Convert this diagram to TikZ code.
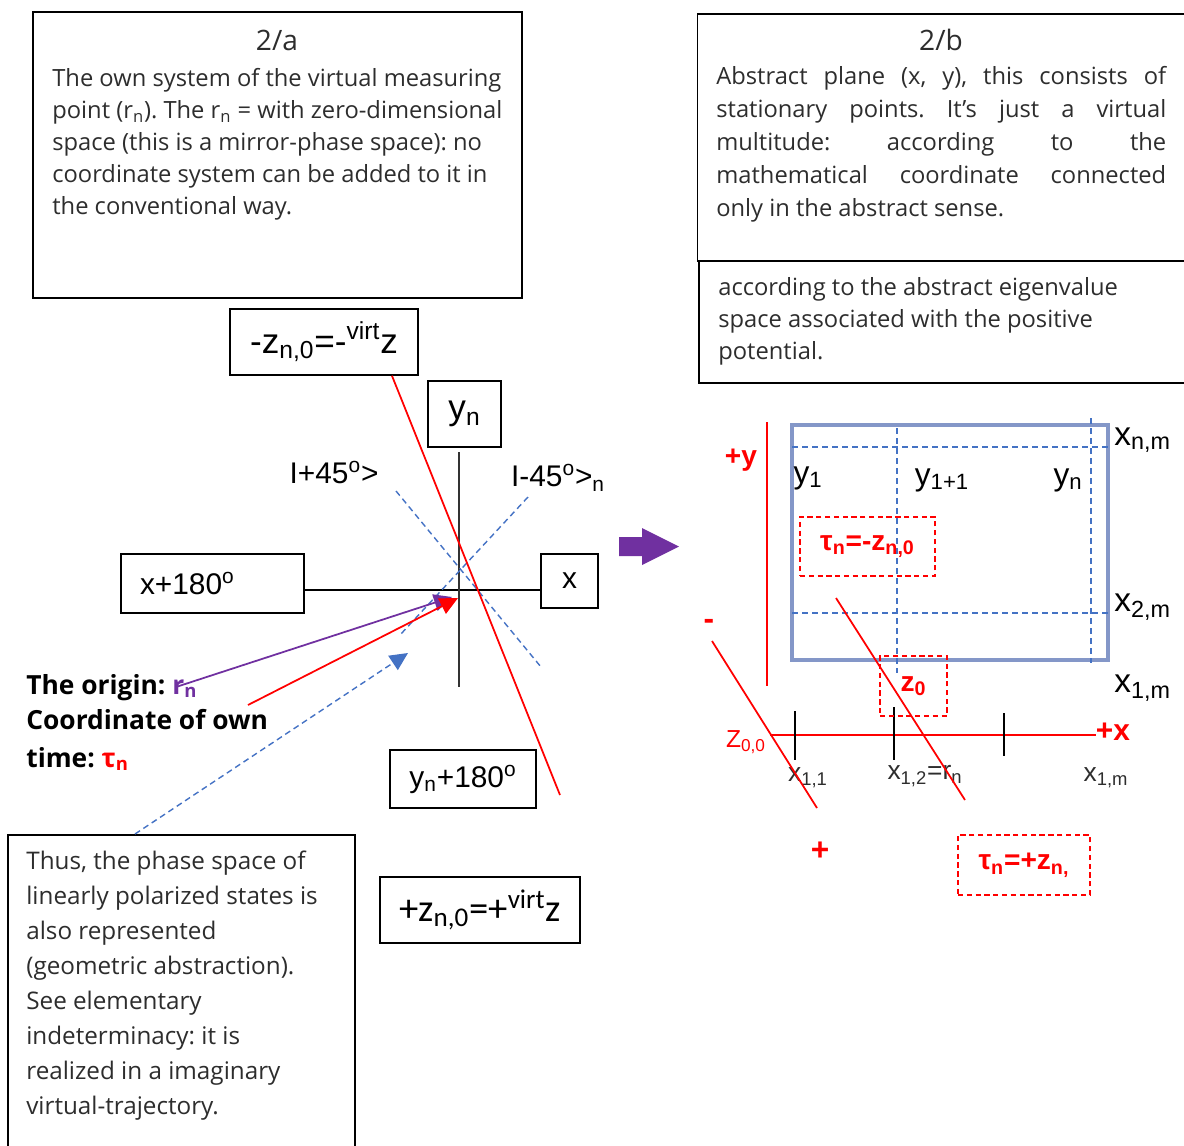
\documentclass[tikz,border=0pt]{standalone}
\usepackage{fontspec}
\setmainfont{Open Sans}
\newfontfamily\arialfont{Liberation Sans}
\newfontfamily\calfont{Carlito}
\usetikzlibrary{arrows.meta,positioning}
\definecolor{violet1}{RGB}{112,48,160}
\definecolor{dashblue}{RGB}{68,114,196}
\definecolor{gridblue}{RGB}{132,151,200}
\definecolor{txtgray}{RGB}{45,45,45}
\newcommand{\spreadline}[1]{\makebox[9cm][s]{#1}}
\frenchspacing
\tikzset{
  panel/.style={draw, line width=0.9pt, inner sep=0pt},
  bodytxt/.style={inner sep=0pt, align=left, text=txtgray, font=\fontsize{13.5}{18.2}\selectfont},
  boxlabel/.style={draw, line width=0.9pt, inner sep=0pt, font=\arialfont\fontsize{17}{20}\selectfont},
  plainlbl/.style={inner sep=0pt, font=\arialfont\fontsize{17}{20}\selectfont},
  smalllbl/.style={inner sep=0pt, text=txtgray, font=\arialfont\fontsize{15}{18}\selectfont},
  redlbl/.style={inner sep=0pt, text=red, font=\arialfont\bfseries\fontsize{16}{19}\selectfont},
  redbox/.style={draw=red, dash pattern=on 3pt off 2pt, line width=0.8pt, inner sep=0pt, redlbl},
  boldlbl/.style={inner sep=0pt, font=\bfseries\fontsize{15}{18}\selectfont},
  bluedash/.style={dashblue, dash pattern=on 3.4pt off 2.3pt, line width=0.8pt},
  redline/.style={red, line width=1pt},
  headtip/.style={-{Triangle[length=0.36cm,width=0.34cm]}}
}
\begin{document}
\begin{tikzpicture}[x=0.02cm,y=-0.02cm]
  \useasboundingbox (0,0) rectangle (1184,1146);
  % text panels
  \node[panel, minimum width=9.78cm, minimum height=5.72cm] (pa) at (277.5,155) {};
  \node[inner sep=0pt, text=txtgray, font=\fontsize{16}{19}\selectfont] (pahead) at (277,40) {2/a};
  \node[bodytxt, anchor=north west] (patext) at (52,68) {The own system of the virtual measuring\\
    point (r\textsubscript{n}). The r\textsubscript{n} = with zero-dimensional\\
    space (this is a mirror-phase space): no\\
    coordinate system can be added to it in\\
    the conventional way.};
  \node[panel, minimum width=9.9cm, minimum height=4.94cm] (pb) at (945,137.5) {};
  \node[inner sep=0pt, text=txtgray, font=\fontsize{16}{19}\selectfont] (pbhead) at (941,40) {2/b};
  \node[bodytxt, anchor=north west, font=\fontsize{13.5}{18.8}\selectfont] (pbtext) at (716,66) {\spreadline{Abstract plane (x, y), this consists of}\\
    \spreadline{stationary points. It’s just a virtual}\\
    \spreadline{multitude: according to the}\\
    \spreadline{mathematical coordinate connected}\\
    only in the abstract sense.};
  \node[panel, minimum width=9.86cm, minimum height=2.44cm] (pc) at (945.5,322) {};
  \node[bodytxt, anchor=north west] (pctext) at (718,277) {according to the abstract eigenvalue\\
    space associated with the positive\\
    potential.};
  \node[panel, minimum width=6.94cm, minimum height=6.3cm] (pd) at (181.5,992.5) {};
  \node[bodytxt, anchor=north west, font=\fontsize{13.8}{19.9}\selectfont] (pdtext) at (26,851) {Thus, the phase space of\\
    linearly polarized states is\\
    also represented\\
    (geometric abstraction).\\
    See elementary\\
    indeterminacy: it is\\
    realized in a imaginary\\
    virtual-trajectory.};

  % left coordinate cross
  \node[boxlabel, font=\arialfont\fontsize{20}{24}\selectfont, minimum width=3.76cm, minimum height=1.32cm] (zneg) at (324,342) {-z\textsubscript{n,0}=-\textsuperscript{virt}z};
  \node[boxlabel, font=\arialfont\fontsize{20}{24}\selectfont, minimum width=1.46cm, minimum height=1.32cm] (yn) at (464.5,414) {y\textsubscript{n}};
  \node[boxlabel, minimum width=3.66cm, minimum height=1.18cm, text width=2.9cm, align=left] (xm) at (212.5,583.5) {x+180\textsuperscript{o}};
  \node[boxlabel, minimum width=1.14cm, minimum height=1.08cm] (xp) at (569.5,581) {x};
  \node[boxlabel, minimum width=2.92cm, minimum height=1.16cm] (ym) at (463,779) {y\textsubscript{n}+180\textsuperscript{o}};
  \node[boxlabel, font=\calfont\fontsize{22}{26}\selectfont, minimum width=4cm, minimum height=1.32cm] (zpos) at (480,910) {+z\textsubscript{n,0}=+\textsuperscript{virt}z};
  \node[plainlbl] (pl45) at (334,473) {I+45\textsuperscript{o}>};
  \node[plainlbl] (mi45) at (558,478) {I-45\textsuperscript{o}>\textsubscript{n}};

  \coordinate (o) at (459,590);
  \coordinate (vend) at (459,687);
  \draw[line width=0.8pt] (xm.east |- o) -- (xp.west |- o);
  \draw[line width=1.2pt, black!80] (459,452) -- (vend);
  \coordinate (d1a) at (396,491);
  \coordinate (d1b) at (541,667);
  \coordinate (d2a) at (528,497);
  \coordinate (d2b) at (400,635);
  \draw[bluedash] (d1a) -- (d1b);
  \draw[bluedash] (d2a) -- (d2b);
  \coordinate (zend) at (560,795);
  \draw[redline] (zneg.south -| 392,0) -- (zend);

  \node[boldlbl, anchor=base west] (orig) at (26,694) {The origin: \textcolor{violet1}{r\textsubscript{n}}};
  \node[boldlbl, anchor=base west] (coord) at (26,729) {Coordinate of own};
  \node[boldlbl, anchor=base west] (owntime) at (26,767) {time: \textcolor{red}{τ\textsubscript{n}}};
  \coordinate (rstart) at (176,687);
  \coordinate (tstart) at (248,705);
  \coordinate (bstart) at (135,834);
  \draw[violet1, line width=1pt, headtip] (rstart) -- (452,597);
  \draw[redline, headtip] (tstart) -- (458,598);
  \draw[bluedash, headtip] (bstart) -- (408,653);

  % transition arrow
  \fill[violet1] (619,537) -- (642,537) -- (642,528) -- (679,546.5) -- (642,565) -- (642,556) -- (619,556) -- cycle;

  % abstract plane
  \draw[gridblue, line width=1.8pt] (792,425) rectangle (1108,660);
  \draw[bluedash] (792,447) -- (1108,447);
  \draw[bluedash] (792,613) -- (1108,613);
  \draw[bluedash] (897,428) -- (897,673);
  \draw[bluedash] (1091,418) -- (1091,663);
  \node[plainlbl, font=\arialfont\fontsize{19}{22}\selectfont, anchor=west] (xnm) at (1114,440) {x\textsubscript{n,m}};
  \node[plainlbl, font=\arialfont\fontsize{19}{22}\selectfont, anchor=west] (x2m) at (1114,607) {x\textsubscript{2,m}};
  \node[plainlbl, font=\arialfont\fontsize{19}{22}\selectfont, anchor=west] (x1m) at (1114,688) {x\textsubscript{1,m}};
  \node[plainlbl, font=\arialfont\fontsize{18}{22}\selectfont] (y1) at (808,478) {y\textsubscript{1}};
  \node[plainlbl, font=\arialfont\fontsize{18}{22}\selectfont] (y11) at (942,480) {y\textsubscript{1+1}};
  \node[plainlbl, font=\arialfont\fontsize{18}{22}\selectfont] (ynr) at (1068,480) {y\textsubscript{n}};

  \node[redlbl] (plusy) at (741,460) {+y};
  \node[redlbl, font=\arialfont\bfseries\fontsize{18}{22}\selectfont] (minus) at (709,624) {-};
  \node[redlbl, font=\arialfont\bfseries\fontsize{18}{22}\selectfont] (plus) at (820,851) {+};
  \node[redlbl, font=\arialfont\bfseries\fontsize{17}{20}\selectfont] (plusx) at (1113,732) {+x};
  \node[inner sep=0pt, text=red, font=\arialfont\fontsize{14}{17}\selectfont] (z00) at (746,742) {Z\textsubscript{0,0}};
  \draw[redline] (767,422) -- (767,686);
  \draw[redline] (770,735) -- (plusx.west |- 0,735);
  \foreach \tx/\ta/\tb in {795/711/760, 894/707/760, 1004/713/756}
    \draw[line width=1pt] (\tx,\ta) -- (\tx,\tb);
  \node[smalllbl] (x11) at (808,778) {x\textsubscript{1,1}};
  \node[smalllbl] (x12) at (925,776) {x\textsubscript{1,2}=r\textsubscript{n}};
  \node[smalllbl] (x1mb) at (1106,778) {x\textsubscript{1,m}};
  \draw[redline] (712,641) -- (817,808);
  \draw[redline] (836,598) -- (965,800);

  \node[redbox, minimum width=2.7cm, minimum height=1.18cm] (tauneg) at (867.5,546.5) {τ\textsubscript{n}=-z\textsubscript{n,0}};
  \node[redbox, minimum width=1.34cm, minimum height=1.2cm] (zzero) at (913.5,686) {z\textsubscript{0}};
  \node[redbox, minimum width=2.64cm, minimum height=1.2cm] (taupos) at (1024,865) {τ\textsubscript{n}=+z\textsubscript{n,}};
\end{tikzpicture}
\end{document}
